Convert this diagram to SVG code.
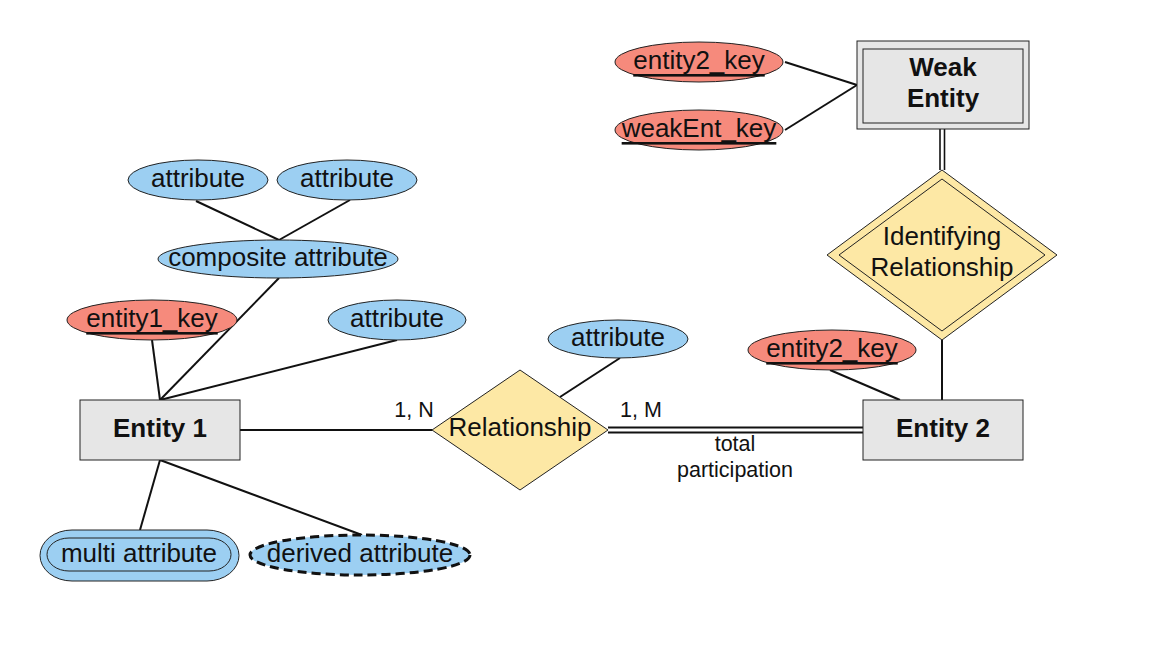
<svg xmlns="http://www.w3.org/2000/svg" width="1152" height="648" viewBox="0 0 1152 648">
<style>
.attr{fill:#9ccff2;stroke:#222;stroke-width:1}
.key{fill:#f68a7c;stroke:#222;stroke-width:1}
.ent{fill:#e6e6e6;stroke:#222;stroke-width:1}
.rel{fill:#fde8a5;stroke:#222;stroke-width:1}
.t{font-family:"Liberation Sans",Arial,sans-serif;font-size:26px;fill:#111;text-anchor:middle;dominant-baseline:central}
.b{font-weight:bold}
.u{text-decoration:underline}
.s{font-family:"Liberation Sans",Arial,sans-serif;font-size:21.5px;fill:#111;text-anchor:middle}
.c{stroke:#111;stroke-width:2;fill:none}
</style>
<rect width="1152" height="648" fill="#fff"/>
<g id="connectors">
<line class="c" x1="196" y1="201" x2="279" y2="240"/>
<line class="c" x1="350" y1="200" x2="279" y2="240"/>
<line class="c" x1="279" y1="278" x2="160" y2="400"/>
<line class="c" x1="152" y1="340" x2="160" y2="400"/>
<line class="c" x1="397" y1="340" x2="160" y2="400"/>
<line class="c" x1="160" y1="460" x2="140" y2="530"/>
<line class="c" x1="160" y1="460" x2="362" y2="535"/>
<line class="c" x1="240" y1="430" x2="432" y2="430"/>
<line class="c" x1="560" y1="397" x2="620" y2="358"/>
<line class="c" x1="608" y1="427.5" x2="863" y2="427.5"/>
<line class="c" x1="608" y1="432.5" x2="863" y2="432.5"/>
<line class="c" x1="830" y1="370" x2="900" y2="400"/>
<line class="c" x1="942" y1="400" x2="942" y2="340"/>
<line class="c" style="stroke-width:1.6" x1="940" y1="170" x2="940" y2="129"/>
<line class="c" style="stroke-width:1.6" x1="944.5" y1="170" x2="944.5" y2="129"/>
<line class="c" x1="785" y1="62" x2="857" y2="85"/>
<line class="c" x1="785" y1="130" x2="857" y2="85"/>
<text class="s" x="414" y="417">1, N</text>
<text class="s" x="641" y="417">1, M</text>
<text class="s" x="735" y="451">total</text>
<text class="s" x="735" y="477">participation</text>
</g>
<g id="attr1"><ellipse class="attr" cx="198" cy="180" rx="70" ry="20"/><text class="t" x="198" y="178">attribute</text></g>
<g id="attr2"><ellipse class="attr" cx="347" cy="180" rx="70" ry="20"/><text class="t" x="347" y="178">attribute</text></g>
<g id="composite"><ellipse class="attr" cx="278" cy="259" rx="120" ry="19"/><text class="t" x="278" y="257">composite attribute</text></g>
<g id="entity1_key"><ellipse class="key" cx="152" cy="320" rx="85" ry="20"/><text class="t u" x="152" y="318">entity1_key</text></g>
<g id="attr3"><ellipse class="attr" cx="397" cy="320" rx="69" ry="20"/><text class="t" x="397" y="318">attribute</text></g>
<g id="entity1"><rect class="ent" x="80" y="400" width="160" height="60"/><text class="t b" x="160" y="428">Entity 1</text></g>
<g id="multi"><rect class="attr" x="40" y="530" width="199" height="51" rx="32" ry="25.5"/><rect fill="none" stroke="#222" stroke-width="1" x="47" y="538" width="184" height="33" rx="22" ry="16.5"/><text class="t" x="139" y="553">multi attribute</text></g>
<g id="derived"><ellipse class="attr" style="stroke-width:3;stroke-dasharray:9,5;stroke:#111" cx="360" cy="555" rx="110" ry="20"/><text class="t" x="360" y="553">derived attribute</text></g>
<g id="relationship"><polygon class="rel" points="520,370 608,430 520,490 432,430"/><text class="t" x="520" y="427">Relationship</text></g>
<g id="attr4"><ellipse class="attr" cx="618" cy="339" rx="70" ry="19"/><text class="t" x="618" y="337">attribute</text></g>
<g id="entity2"><rect class="ent" x="863" y="400" width="160" height="60"/><text class="t b" x="943" y="428">Entity 2</text></g>
<g id="entity2_key_b"><ellipse class="key" cx="832" cy="350" rx="84" ry="20"/><text class="t u" x="832" y="348">entity2_key</text></g>
<g id="identifying"><polygon class="rel" points="942,170 1057,255 942,340 827,255"/><polygon fill="none" stroke="#222" stroke-width="1" points="942,179 1045,255 942,331 839,255"/><text class="t" x="942" y="236">Identifying</text><text class="t" x="942" y="267">Relationship</text></g>
<g id="weak"><rect class="ent" x="857" y="41" width="172" height="88"/><rect fill="none" stroke="#222" stroke-width="1" x="863" y="49" width="160" height="74"/><text class="t b" x="943" y="67">Weak</text><text class="t b" x="943" y="98">Entity</text></g>
<g id="entity2_key_a"><ellipse class="key" cx="699" cy="62" rx="84" ry="20"/><text class="t u" x="699" y="60">entity2_key</text></g>
<g id="weakEnt_key"><ellipse class="key" cx="699" cy="130" rx="84" ry="20"/><text class="t u" x="699" y="128">weakEnt_key</text></g>
</svg>
